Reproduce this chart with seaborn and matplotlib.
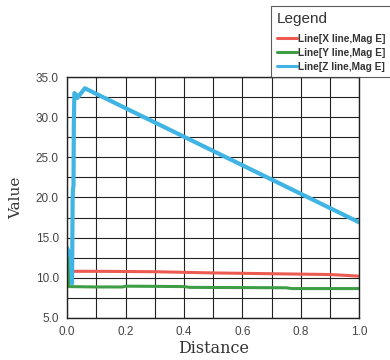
import numpy as np
import pandas as pd
import matplotlib
matplotlib.use("Agg")
import matplotlib.pyplot as plt
from matplotlib.ticker import MultipleLocator
import seaborn as sns

# values
x_dist = [0.0, 0.004, 0.012, 0.02, 0.1, 0.3, 0.5, 0.7, 0.9, 1.0]
x_vals = [13.0, 12.5, 10.8, 10.8, 10.8, 10.75, 10.6, 10.5, 10.4, 10.2]

y_dist = [0.0, 0.003, 0.006, 0.1, 0.19, 0.2, 0.4, 0.42, 0.75, 0.77, 1.0]
y_vals = [13.8, 13.0, 8.9, 8.85, 8.85, 8.95, 8.9, 8.8, 8.75, 8.65, 8.65]

z_dist = [0.0, 0.008, 0.013, 0.017, 0.019, 0.02, 0.022, 0.023, 0.025, 0.031, 0.035, 0.061, 1.0]
z_vals = [13.7, 13.0, 12.5, 9.3, 19.7, 21.0, 21.5, 28.9, 33.0, 32.8, 32.4, 33.6, 16.9]

names = ["Line[X line,Mag E]", "Line[Y line,Mag E]", "Line[Z line,Mag E]"]
colors = ["#ec5a52", "#3f9e45", "#40b4e2"]

df = pd.concat([
    pd.DataFrame({"Distance": x_dist, "Value": x_vals, "Line": names[0]}),
    pd.DataFrame({"Distance": y_dist, "Value": y_vals, "Line": names[1]}),
    pd.DataFrame({"Distance": z_dist, "Value": z_vals, "Line": names[2]}),
], ignore_index=True)

sns.set_style("white")

fig = plt.figure(figsize=(3.9, 3.6), dpi=100)
ax = fig.add_axes([0.172, 0.117, 0.749, 0.669])

sns.lineplot(data=df, x="Distance", y="Value", hue="Line", hue_order=names,
             palette=colors, estimator=None, sort=False, ax=ax, legend=False)
for line, lw in zip(ax.get_lines(), [2.2, 2.2, 3.0]):
    line.set_linewidth(lw)

ax.set_xlim(0, 1.0)
ax.set_ylim(5, 35)
ax.xaxis.set_major_locator(MultipleLocator(0.2))
ax.xaxis.set_minor_locator(MultipleLocator(0.1))
ax.yaxis.set_major_locator(MultipleLocator(5))
ax.yaxis.set_minor_locator(MultipleLocator(2.5))
ax.set_xticklabels([f"{v:.1f}" for v in ax.get_xticks()])
ax.set_yticklabels([f"{v:.1f}" for v in ax.get_yticks()])
ax.grid(which="both", color="#222222", linewidth=0.8)
ax.set_axisbelow(True)
ax.tick_params(which="both", length=0, labelsize=8.5, labelcolor="#444444", pad=6)
for lab in ax.get_xticklabels() + ax.get_yticklabels():
    lab.set_fontfamily("Liberation Sans")
for sp in ax.spines.values():
    sp.set_color("#222222")
    sp.set_linewidth(1.0)

ax.set_xlabel("Distance", fontsize=11.5, fontfamily="DejaVu Serif", color="#333333", labelpad=1)
ax.set_ylabel("Value", fontsize=11, fontfamily="DejaVu Serif", color="#333333", labelpad=9)

# legend box runs off the right edge in the reference
handles = [plt.Line2D([], [], color=c, linewidth=2.2) for c in colors]
leg = fig.legend(handles, names, title="Legend", loc="upper left",
                 bbox_to_anchor=(271 / 390, 1 - 73 / 360, 140 / 390, 67 / 360),
                 mode="expand", frameon=True, fancybox=False,
                 prop={"family": "Liberation Sans", "weight": "bold", "size": 7.3},
                 handlelength=2.0, handletextpad=0.15, labelspacing=0.38,
                 borderpad=0.55, borderaxespad=0)
leg.get_title().set_fontsize(11)
leg.get_title().set_fontfamily("Liberation Sans")
leg.get_title().set_color("#333333")
leg._legend_box.align = "left"
leg._legend_box.sep = 6
leg.get_frame().set_edgecolor("#333333")
leg.get_frame().set_linewidth(0.8)
for t in leg.get_texts():
    t.set_color("#333333")

fig.savefig("out.png", dpi=100)
